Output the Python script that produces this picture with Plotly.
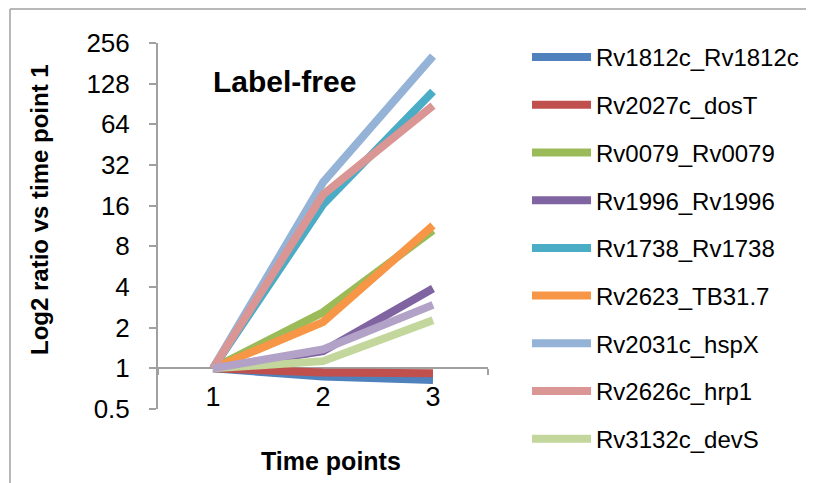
import plotly.graph_objects as go
import math

time_points = ["1", "2", "3"]

series_names = [
    "Rv1812c_Rv1812c", "Rv2027c_dosT", "Rv0079_Rv0079", "Rv1996_Rv1996",
    "Rv1738_Rv1738", "Rv2623_TB31.7", "Rv2031c_hspX", "Rv2626c_hrp1",
    "Rv3132c_devS", "Series10",
]
rv1812c = [1, 0.87, 0.82]
rv2027c = [1, 0.93, 0.92]
rv0079 = [1, 2.6, 10.5]
rv1996 = [1, 1.34, 3.9]
rv1738 = [1, 16.3, 112]
rv2623 = [1, 2.2, 11.4]
rv2031c = [1, 23.8, 205]
rv2626c = [1, 19.3, 88]
rv3132c = [1, 1.13, 2.27]
series10 = [1, 1.38, 2.95]
series_values = [rv1812c, rv2027c, rv0079, rv1996, rv1738, rv2623,
                 rv2031c, rv2626c, rv3132c, series10]

colors = ["#4F81BD", "#C0504D", "#9BBB59", "#8064A2", "#4BACC6", "#F79646",
          "#95B3D7", "#D99694", "#C3D69B", "#B3A2C7"]

y_tick_vals = [0.5, 1, 2, 4, 8, 16, 32, 64, 128, 256]
y_tick_text = ["0.5", "1", "2", "4", "8", "16", "32", "64", "128", "256"]

FONT = "Liberation Sans, Arial, sans-serif"
GRAY = "#A0A0A0"

fig = go.Figure()
for i, (name, vals, col) in enumerate(zip(series_names, series_values, colors)):
    fig.add_trace(go.Scatter(
        x=time_points, y=vals, mode="lines", name=name,
        line=dict(color=col, width=8),
        showlegend=(i < 9), legendgroup=f"g{i}",
    ))

W, H = 814, 483
OFF = 8  # page body margin offsets the figure by 8px
# plot area in (reference) pixels
L, R, T, B = 158 - OFF, W - (488 - OFF), 43 - OFF, H - (409 - OFF)
pw, ph = W - L - R, H - T - B

def px_x(x):
    return (x - OFF - L) / pw

def px_y(y):
    return (H - B - (y - OFF)) / ph

fig.update_layout(
    width=W, height=H,
    margin=dict(l=L, r=R, t=T, b=B, autoexpand=False),
    paper_bgcolor="white", plot_bgcolor="white",
    font=dict(family=FONT, color="black"),
    xaxis=dict(
        type="category", range=[-0.5, 2.5],
        showgrid=False, zeroline=False,
        showline=True, linecolor=GRAY, linewidth=2,
        ticks="outside", tickson="boundaries", ticklen=6, tickcolor=GRAY, tickwidth=2,
        tickfont=dict(size=27, family=FONT),
        anchor="free", position=1 / 9, layer="below traces",
        ticklabelstandoff=4, automargin=False,
    ),
    yaxis=dict(
        type="log", range=[math.log10(0.5), math.log10(256)],
        tickvals=y_tick_vals, ticktext=y_tick_text,
        showgrid=False, zeroline=False,
        showline=True, linecolor=GRAY, linewidth=2,
        ticks="outside", ticklen=7, tickcolor=GRAY, tickwidth=2,
        tickfont=dict(size=26, family=FONT),
        ticklabelstandoff=14, automargin=False,
        layer="below traces",
    ),
    legend=dict(
        xref="container", yref="container",
        x=519 / W, y=1 - 27 / H, xanchor="left", yanchor="top",
        font=dict(size=24, family=FONT),
        traceorder="grouped", tracegroupgap=13.5,
        itemwidth=59, bgcolor="rgba(0,0,0,0)",
        maxheight=1.0,
    ),
    annotations=[
        dict(text="<b>Label-free</b>", x=px_x(284), y=px_y(81), xref="paper", yref="paper",
             showarrow=False, font=dict(size=30, family=FONT), xanchor="center", yanchor="middle"),
        dict(text="<b>Time points</b>", x=px_x(331), y=px_y(461), xref="paper", yref="paper",
             showarrow=False, font=dict(size=25, family=FONT), xanchor="center", yanchor="middle"),
        dict(text="<b>Log2 ratio vs time point 1</b>", x=px_x(40), y=px_y(209), xref="paper", yref="paper",
             showarrow=False, font=dict(size=24, family=FONT), textangle=-90,
             xanchor="center", yanchor="middle"),
    ],
    shapes=[
        dict(type="line", xref="paper", yref="paper", x0=px_x(10), x1=px_x(10), y0=px_y(9), y1=px_y(500),
             line=dict(color=GRAY, width=1.5)),
        dict(type="line", xref="paper", yref="paper", x0=px_x(10), x1=px_x(830), y0=px_y(9), y1=px_y(9),
             line=dict(color=GRAY, width=1.5)),
    ],
)

fig.write_html("out.html")
